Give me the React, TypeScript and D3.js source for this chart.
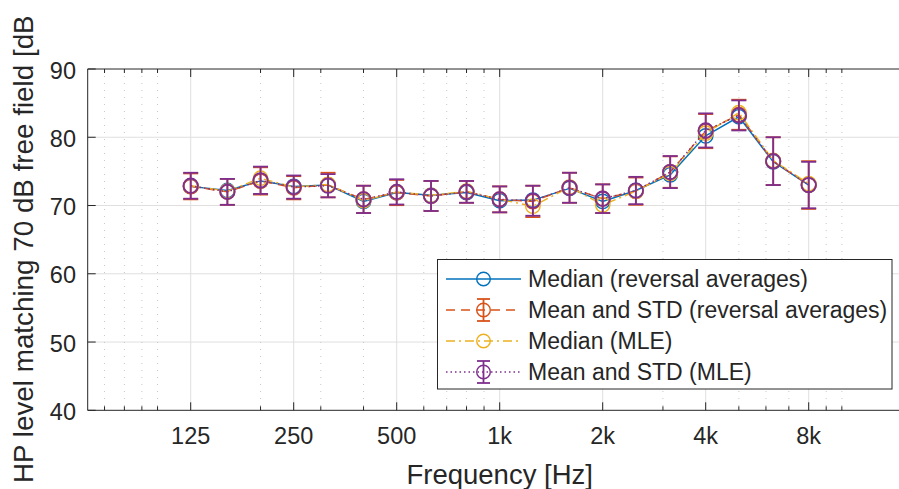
import React, { useEffect, useRef } from "react";
import * as d3 from "d3";

// 1/3-octave centre frequencies [Hz]
const freqs = [125, 160, 200, 250, 315, 400, 500, 630, 800, 1000, 1250, 1600, 2000, 2500, 3150, 4000, 5000, 6300, 8000];

// levels [dB]
const medianRev = [72.8, 72.2, 73.6, 72.8, 73.0, 70.6, 71.9, 71.5, 71.9, 70.7, 70.8, 72.5, 70.6, 72.2, 74.5, 80.2, 83.0, 76.4, 73.0];
const meanRev = [72.8, 72.0, 73.6, 72.6, 73.0, 70.9, 71.9, 71.4, 72.0, 70.9, 70.6, 72.6, 71.0, 72.1, 74.9, 80.9, 83.3, 76.5, 73.0];
const stdRev = [1.9, 1.9, 2.0, 1.7, 1.8, 2.0, 1.85, 2.2, 1.6, 1.9, 2.3, 2.2, 2.1, 2.0, 2.3, 2.5, 2.2, 3.5, 3.5];
const medianMle = [72.9, 72.1, 74.0, 72.7, 73.1, 70.7, 72.0, 71.5, 72.1, 70.9, 69.9, 72.7, 70.1, 72.1, 74.7, 80.6, 83.6, 76.6, 73.2];
const meanMle = [72.9, 72.0, 73.7, 72.7, 72.9, 70.9, 72.0, 71.4, 72.0, 70.9, 70.7, 72.6, 71.0, 72.2, 74.9, 81.0, 83.2, 76.5, 73.0];
const stdMle = [1.9, 1.9, 2.0, 1.7, 1.7, 2.0, 1.85, 2.2, 1.6, 1.9, 2.2, 2.2, 2.1, 2.0, 2.35, 2.5, 2.2, 3.5, 3.4];

const xTickValues = [125, 250, 500, 1000, 2000, 4000, 8000];
const xTickLabels = ["125", "250", "500", "1k", "2k", "4k", "8k"];
const yTickValues = [40, 50, 60, 70, 80, 90];

const legendLabels = [
  "Median (reversal averages)",
  "Mean and STD (reversal averages)",
  "Median (MLE)",
  "Mean and STD (MLE)",
];

type Series = {
  name: string;
  color: string;
  dash: string | null;
  values: number[];
  std: number[] | null;
};

const series: Series[] = [
  { name: legendLabels[0], color: "#0072BD", dash: null, values: medianRev, std: null },
  { name: legendLabels[1], color: "#D95319", dash: "9,6", values: meanRev, std: stdRev },
  { name: legendLabels[2], color: "#EDB120", dash: "9,4,2,4", values: medianMle, std: null },
  { name: legendLabels[3], color: "#7E2F8E", dash: "1.5,3", values: meanMle, std: stdMle },
];

const W = 899;
const H = 489;
const FONT = "'Liberation Sans', Arial, Helvetica, sans-serif";
const INK = "#262626";

export default function App() {
  const svgRef = useRef<SVGSVGElement>(null);

  useEffect(() => {
    const svg = d3.select(svgRef.current);
    svg.selectAll("*").remove();

    const left = 87.7, top = 69, bottom = 410.3, right = 911.7;
    const x = d3.scaleLog().domain([62.5, 16000]).range([left, right]);
    const y = d3.scaleLinear().domain([40, 90]).range([bottom, top]);

    svg.append("rect").attr("width", W).attr("height", H).attr("fill", "#fff");

    // minor log ticks come straight from the scale
    const minor = x.ticks().filter(t => !xTickValues.includes(t));

    const grid = svg.append("g");
    grid.selectAll("line.ym")
      .data(yTickValues.slice(1, -1))
      .enter().append("line")
      .attr("x1", left).attr("x2", right)
      .attr("y1", d => y(d)).attr("y2", d => y(d))
      .attr("stroke", "#dfdfdf").attr("stroke-width", 1);
    grid.selectAll("line.xn")
      .data(minor)
      .enter().append("line")
      .attr("x1", d => x(d)).attr("x2", d => x(d))
      .attr("y1", top).attr("y2", bottom)
      .attr("stroke", "#c8c8c8").attr("stroke-width", 1)
      .attr("stroke-dasharray", "1,6");
    grid.selectAll("line.xm")
      .data(xTickValues)
      .enter().append("line")
      .attr("x1", d => x(d)).attr("x2", d => x(d))
      .attr("y1", top).attr("y2", bottom)
      .attr("stroke", "#dfdfdf").attr("stroke-width", 1);

    // box and ticks
    const ax = svg.append("g").attr("stroke", INK).attr("stroke-width", 1);
    ax.append("path")
      .attr("d", `M${right},${top}H${left}V${bottom}H${right}`)
      .attr("fill", "none");
    xTickValues.forEach(v => {
      ax.append("line").attr("x1", x(v)).attr("x2", x(v)).attr("y1", bottom).attr("y2", bottom - 8);
      ax.append("line").attr("x1", x(v)).attr("x2", x(v)).attr("y1", top).attr("y2", top + 8);
    });
    minor.forEach(v => {
      ax.append("line").attr("x1", x(v)).attr("x2", x(v)).attr("y1", bottom).attr("y2", bottom - 4);
      ax.append("line").attr("x1", x(v)).attr("x2", x(v)).attr("y1", top).attr("y2", top + 4);
    });
    yTickValues.forEach(v => {
      ax.append("line").attr("x1", left).attr("x2", left + 8).attr("y1", y(v)).attr("y2", y(v));
    });

    // tick labels
    const labels = svg.append("g").attr("fill", INK).style("font-family", FONT).style("font-size", "23.5px");
    labels.selectAll("text.x")
      .data(xTickValues)
      .enter().append("text")
      .attr("x", d => x(d)).attr("y", 444)
      .attr("text-anchor", "middle")
      .text((d, i) => xTickLabels[i]);
    labels.selectAll("text.y")
      .data(yTickValues)
      .enter().append("text")
      .attr("x", 76).attr("y", d => y(d) + 9.5)
      .attr("text-anchor", "end")
      .text(d => d);

    // data
    const line = d3.line<number>()
      .x((d, i) => x(freqs[i]))
      .y(d => y(d));

    series.forEach(s => {
      const g = svg.append("g");
      g.append("path")
        .attr("d", line(s.values))
        .attr("fill", "none")
        .attr("stroke", s.color)
        .attr("stroke-width", 1.4)
        .attr("stroke-dasharray", s.dash);
      if (s.std) {
        const sd = s.std;
        const eb = g.selectAll("g.eb")
          .data(s.values)
          .enter().append("g")
          .attr("stroke", s.color)
          .attr("stroke-width", 1.8);
        eb.append("line")
          .attr("x1", (d, i) => x(freqs[i])).attr("x2", (d, i) => x(freqs[i]))
          .attr("y1", (d, i) => y(d - sd[i])).attr("y2", (d, i) => y(d + sd[i]));
        eb.append("line")
          .attr("x1", (d, i) => x(freqs[i]) - 7.5).attr("x2", (d, i) => x(freqs[i]) + 7.5)
          .attr("y1", (d, i) => y(d - sd[i])).attr("y2", (d, i) => y(d - sd[i]));
        eb.append("line")
          .attr("x1", (d, i) => x(freqs[i]) - 7.5).attr("x2", (d, i) => x(freqs[i]) + 7.5)
          .attr("y1", (d, i) => y(d + sd[i])).attr("y2", (d, i) => y(d + sd[i]));
      }
      g.selectAll("circle")
        .data(s.values)
        .enter().append("circle")
        .attr("cx", (d, i) => x(freqs[i]))
        .attr("cy", d => y(d))
        .attr("r", 7.2)
        .attr("fill", "none")
        .attr("stroke", s.color)
        .attr("stroke-width", s.std ? 1.8 : 1.4);
    });

    // legend
    const lg = svg.append("g");
    lg.append("rect")
      .attr("x", 437.5).attr("y", 259.5).attr("width", 454.5).attr("height", 129.5)
      .attr("fill", "#fff").attr("stroke", INK).attr("stroke-width", 1);
    series.forEach((s, i) => {
      const cy = 279 + i * 31;
      const row = lg.append("g");
      row.append("line")
        .attr("x1", 446).attr("x2", 521).attr("y1", cy).attr("y2", cy)
        .attr("stroke", s.color).attr("stroke-width", 1.4)
        .attr("stroke-dasharray", s.dash);
      if (s.std) {
        const eb = row.append("g").attr("stroke", s.color).attr("stroke-width", 1.8);
        eb.append("line").attr("x1", 483.5).attr("x2", 483.5).attr("y1", cy - 11).attr("y2", cy + 11);
        eb.append("line").attr("x1", 477).attr("x2", 490).attr("y1", cy - 11).attr("y2", cy - 11);
        eb.append("line").attr("x1", 477).attr("x2", 490).attr("y1", cy + 11).attr("y2", cy + 11);
      }
      row.append("circle")
        .attr("cx", 483.5).attr("cy", cy).attr("r", 6.8)
        .attr("fill", "none").attr("stroke", s.color).attr("stroke-width", 1.4);
      row.append("text")
        .attr("x", 528).attr("y", cy + 8.3)
        .attr("fill", INK)
        .style("font-family", FONT).style("font-size", "23px")
        .text(s.name);
    });

    // axis labels
    svg.append("text")
      .attr("x", (left + right) / 2).attr("y", 484)
      .attr("text-anchor", "middle")
      .attr("fill", INK)
      .style("font-family", FONT).style("font-size", "27.5px")
      .text("Frequency [Hz]");

    // the figure edge cuts the closing bracket of the y label
    svg.append("clipPath").attr("id", "ylabClip")
      .append("rect").attr("x", 0).attr("y", 15).attr("width", 60).attr("height", H);
    svg.append("g").attr("clip-path", "url(#ylabClip)")
      .append("text")
      .attr("transform", "translate(33.3,483) rotate(-90)")
      .attr("text-anchor", "start")
      .attr("fill", INK)
      .style("font-family", FONT).style("font-size", "27.8px")
      .text("HP level matching 70 dB free field [dB]");
  }, []);

  return (
    <svg
      ref={svgRef}
      width={W}
      height={H}
      style={{ position: "absolute", left: 0, top: 0, display: "block" }}
    />
  );
}
